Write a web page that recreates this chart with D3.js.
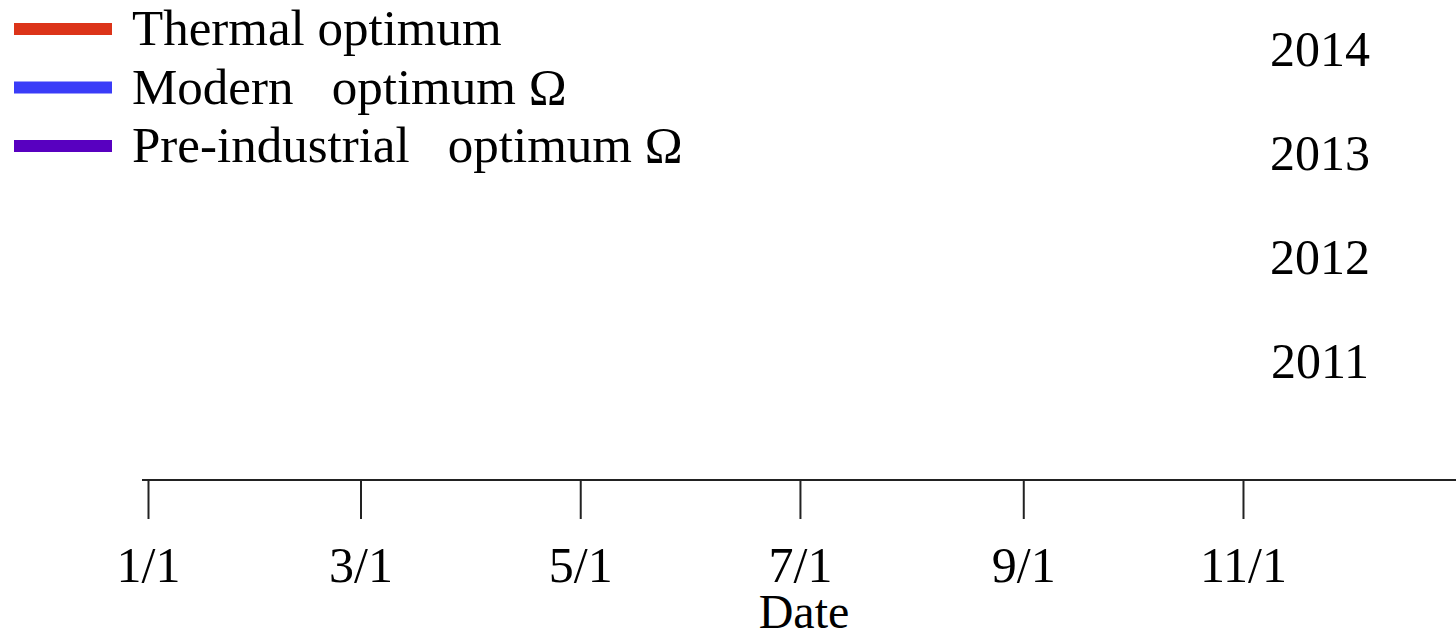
<!DOCTYPE html>
<html>
<head>
<meta charset="utf-8">
<script src="https://cdn.jsdelivr.net/npm/d3@7"></script>
<style>
  html, body { margin: 0; padding: 0; background: #fff; }
  svg { display: block; font-family: "Liberation Serif", "Times New Roman", serif; }
  text { white-space: pre; }
</style>
</head>
<body>
<svg id="chart" width="1456" height="640"></svg>
<script>
// Legend entries (series names and their colours)
const seriesNames = ["Thermal optimum", "Modern   optimum \u03A9", "Pre-industrial   optimum \u03A9"];
const seriesColors = ["#dc3419", "#3a3cf8", "#5800c0"];

// Year rows
const years = [2014, 2013, 2012, 2011];

// Date axis ticks (month/day within one year)
const tickDates = ["2013-01-01", "2013-03-01", "2013-05-01", "2013-07-01", "2013-09-01", "2013-11-01"];
const tickLabels = ["1/1", "3/1", "5/1", "7/1", "9/1", "11/1"];

const svg = d3.select("#chart");
const W = 1456, H = 640;

// Horizontal time scale covering one calendar year
const x = d3.scaleTime()
  .domain([new Date(2013, 0, 1), new Date(2014, 0, 1)])
  .range([148, 1462.7]);

// Vertical scale for the year rows
const y = d3.scaleLinear().domain([2011, 2014]).range([378, 66]);

const axisY = 480;
const parse = d3.timeParse("%Y-%m-%d");
const tickVals = tickDates.map(parse);

const xAxis = d3.axisBottom(x)
  .tickValues(tickVals)
  .tickFormat((d, i) => tickLabels[i])
  .tickSizeInner(39)
  .tickSizeOuter(0)
  .tickPadding(63);

const gx = svg.append("g")
  .attr("transform", `translate(0,${axisY})`)
  .call(xAxis);

gx.select(".domain").remove();
gx.selectAll(".tick line").attr("stroke", "#222").attr("stroke-width", 2);
gx.selectAll(".tick text")
  .attr("fill", "#000")
  .attr("font-size", 50)
  .attr("font-family", "'Liberation Serif', 'Times New Roman', serif")
  .attr("dy", 0);

// Axis baseline, extending a little to the left of the first tick
svg.append("line")
  .attr("x1", x.range()[0] - 6)
  .attr("x2", W)
  .attr("y1", axisY)
  .attr("y2", axisY)
  .attr("stroke", "#222")
  .attr("stroke-width", 2);

// Axis title
svg.append("text")
  .attr("x", 804)
  .attr("y", 628)
  .attr("text-anchor", "middle")
  .attr("font-size", 48)
  .attr("fill", "#000")
  .text("Date");

// Year labels on the right
svg.append("g")
  .selectAll("text")
  .data(years)
  .join("text")
  .attr("x", 1320)
  .attr("y", d => y(d))
  .attr("text-anchor", "middle")
  .attr("font-size", 50)
  .attr("fill", "#000")
  .text(d => d);

// Legend
const legend = svg.append("g");
const rowH = 58.5;
const item = legend.selectAll("g")
  .data(seriesNames)
  .join("g")
  .attr("transform", (d, i) => `translate(0,${45 + i * rowH})`);

item.append("line")
  .attr("x1", 14)
  .attr("x2", 112)
  .attr("y1", -16)
  .attr("y2", -16)
  .attr("stroke", (d, i) => seriesColors[i])
  .attr("stroke-width", 12);

item.append("text")
  .attr("x", 132)
  .attr("y", 0)
  .attr("font-size", 51)
  .attr("fill", "#000")
  .text(d => d);
</script>
</body>
</html>
